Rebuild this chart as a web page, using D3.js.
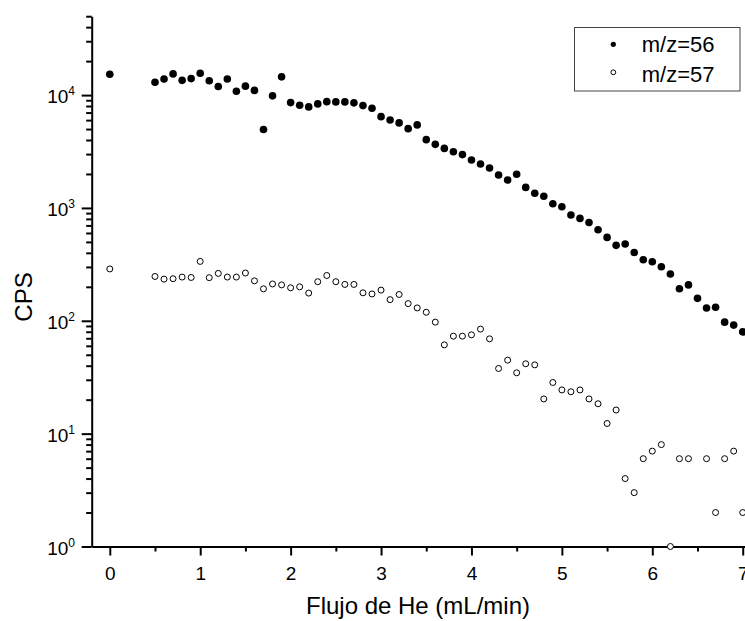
<!DOCTYPE html>
<html>
<head>
<meta charset="utf-8">
<script src="https://cdn.jsdelivr.net/npm/d3@7"></script>
<style>
    body { margin: 0; background: #fff; }
    svg { display: block; font-family: "Liberation Sans", Arial, sans-serif; }
</style>
</head>
<body>
<div id="chart"></div>
<script>
// flow of He (mL/min) and counts per second
const flow56 = [0, 0.5, 0.6, 0.7, 0.8, 0.9, 1.0, 1.1, 1.2, 1.3, 1.4, 1.5, 1.6, 1.7, 1.8, 1.9, 2.0, 2.1, 2.2, 2.3, 2.4,
    2.5, 2.6, 2.7, 2.8, 2.9, 3.0, 3.1, 3.2, 3.3, 3.4, 3.5, 3.6, 3.7, 3.8, 3.9, 4.0, 4.1, 4.2, 4.3, 4.4, 4.5, 4.6, 4.7, 4.8, 4.9,
    5.0, 5.1, 5.2, 5.3, 5.4, 5.5, 5.6, 5.7, 5.8, 5.9, 6.0, 6.1, 6.2, 6.3, 6.4, 6.5, 6.6, 6.7, 6.8, 6.9, 7.0]
const cps56 = [15300, 13000, 13900, 15400, 13500, 14000, 15600, 13400, 11900, 13900, 10800, 12000, 11000, 4950, 9840, 14500, 8580, 8120, 7860, 8350, 8750,
    8700, 8700, 8530, 8070, 7640, 6440, 6020, 5670, 5040, 5440, 4030, 3660, 3370, 3150, 2970, 2660, 2450, 2260, 1960, 1770, 1990, 1520, 1350, 1270, 1090,
    1026, 866, 808, 744, 641, 548, 466, 479, 403, 347, 334, 301, 260, 192, 208, 158, 130, 132, 97.3, 91.6, 79.8]

const flow57 = [0, 0.5, 0.6, 0.7, 0.8, 0.9, 1.0, 1.1, 1.2, 1.3, 1.4, 1.5, 1.6, 1.7, 1.8, 1.9, 2.0, 2.1, 2.2, 2.3, 2.4,
    2.5, 2.6, 2.7, 2.8, 2.9, 3.0, 3.1, 3.2, 3.3, 3.4, 3.5, 3.6, 3.7, 3.8, 3.9, 4.0, 4.1, 4.2, 4.3, 4.4, 4.5, 4.6, 4.7, 4.8, 4.9,
    5.0, 5.1, 5.2, 5.3, 5.4, 5.5, 5.6, 5.7, 5.8, 5.9, 6.0, 6.1, 6.2, 6.3, 6.4, 6.6, 6.7, 6.8, 6.9, 7.0]
const cps57 = [288, 247, 234, 236, 244, 242, 336, 241, 263, 244, 244, 265, 226, 192, 212, 208, 196, 200, 176, 222, 252,
    222, 210, 210, 177, 173, 187, 154, 171, 142, 130, 119, 97.3, 61.2, 73.1, 73.1, 75.1, 84.4, 69.2, 37.8, 44.8, 34.6, 41.6, 40.7, 20.3, 28.4,
    24.4, 23.5, 24.4, 20.3, 18.4, 12.3, 16.2, 4, 3, 6, 7, 8, 1, 6, 6, 6, 2, 6, 7, 2]

const seriesNames = ["m/z=56", "m/z=57"]
const xTicks = [0, 1, 2, 3, 4, 5, 6, 7]
const xMinorTicks = [0.5, 1.5, 2.5, 3.5, 4.5, 5.5, 6.5]
const yTicks = [1, 10, 100, 1000, 10000]
const yExponents = ["0", "1", "2", "3", "4"]

const width = 745, height = 621
const plot = { left: 91.7, right: 760.8, top: 16.2, bottom: 546.5 }

const svg = d3.select("#chart").append("svg")
    .attr("width", width)
    .attr("height", height)

const x = d3.scaleLinear().domain([-0.2, 7.2]).range([plot.left, plot.right])
const y = d3.scaleLog().domain([1, 50000]).range([plot.bottom, plot.top])

// minor ticks first, then the major axis on top
svg.append("g")
    .attr("transform", "translate(0," + plot.bottom + ")")
    .call(d3.axisBottom(x).tickValues(xMinorTicks).tickSize(5).tickSizeOuter(0).tickFormat(""))
    .call(g => g.select(".domain").remove())

const yMinor = y.ticks().filter(v => !yTicks.includes(v))
svg.append("g")
    .attr("transform", "translate(" + plot.left + ",0)")
    .call(d3.axisLeft(y).tickValues(yMinor).tickSize(5.5).tickSizeOuter(0).tickFormat(""))
    .call(g => g.select(".domain").remove())

const xaxis = svg.append("g")
    .attr("transform", "translate(0," + plot.bottom + ")")
    .call(d3.axisBottom(x).tickValues(xTicks).tickSize(9).tickSizeOuter(0).tickPadding(11))

xaxis.selectAll("text")
    .style("font-size", "19px")
    .attr("fill", "#000")

const yaxis = svg.append("g")
    .attr("transform", "translate(" + plot.left + ",0)")
    .call(d3.axisLeft(y).tickValues(yTicks).tickSize(10).tickSizeOuter(0).tickFormat(""))

svg.selectAll(".tick line").attr("stroke", "#000").attr("stroke-width", 2)
svg.selectAll(".domain").attr("stroke", "#000").attr("stroke-width", 2)

// y labels as 10 with a superscript exponent
const ylab = svg.append("g")
    .selectAll("text")
    .data(yTicks)
    .enter()
    .append("text")
    .attr("x", 75)
    .attr("y", d => y(d) + 8)
    .attr("text-anchor", "end")
    .style("font-size", "19px")
ylab.append("tspan").text("10")
ylab.append("tspan")
    .attr("dy", -8)
    .style("font-size", "12px")
    .text((d, i) => yExponents[i])

// data points
const data56 = flow56.map((f, i) => [f, cps56[i]])
const data57 = flow57.map((f, i) => [f, cps57[i]])

svg.append("g")
    .selectAll("circle")
    .data(data57)
    .enter()
    .append("circle")
    .attr("cx", d => x(d[0]))
    .attr("cy", d => y(d[1]))
    .attr("r", 3)
    .attr("fill", "#fff")
    .attr("stroke", "#000")
    .attr("stroke-width", 1)

svg.append("g")
    .selectAll("circle")
    .data(data56)
    .enter()
    .append("circle")
    .attr("cx", d => x(d[0]))
    .attr("cy", d => y(d[1]))
    .attr("r", 3.8)
    .attr("fill", "#000")

// axis titles
svg.append("text")
    .attr("text-anchor", "middle")
    .attr("transform", "translate(418,614)")
    .text("Flujo de He (mL/min)")
    .style("font-size", "24px")

svg.append("text")
    .attr("text-anchor", "middle")
    .attr("transform", "translate(31.5,297)rotate(-90)")
    .text("CPS")
    .style("font-size", "24px")

// legend
const legend = svg.append("g")
legend.append("rect")
    .attr("x", 574.5)
    .attr("y", 27.5)
    .attr("width", 165.5)
    .attr("height", 63.5)
    .attr("fill", "#fff")
    .attr("stroke", "#444")
    .attr("stroke-width", 1)

legend.append("circle")
    .attr("cx", 613.3).attr("cy", 44.3).attr("r", 2.6)
    .attr("fill", "#000")
legend.append("circle")
    .attr("cx", 613.3).attr("cy", 72.3).attr("r", 2.4)
    .attr("fill", "#fff").attr("stroke", "#000").attr("stroke-width", 1)

legend.selectAll("text")
    .data(seriesNames)
    .enter()
    .append("text")
    .attr("x", 641.7)
    .attr("y", (d, i) => 51.7 + i * 30)
    .text(d => d)
    .style("font-size", "22px")
</script>
</body>
</html>
